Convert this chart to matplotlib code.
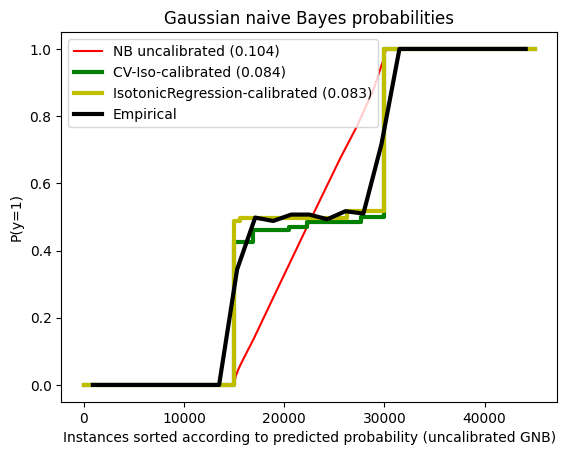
import numpy as np
from matplotlib import pyplot as plt

# red line: uncalibrated NB probabilities (sorted)
nb_x = [0, 15000, 15150, 15400, 15800, 17000, 18940, 22270, 25600, 27260, 28920, 29920, 30150, 45000]
nb_y = [0, 0, 0.025, 0.045, 0.07, 0.14, 0.262, 0.47, 0.675, 0.77, 0.88, 0.97, 1.0, 1.0]

# green: CV isotonic calibrated (step starts)
cv_x = [0, 15000, 16900, 20500, 22300, 27700, 30000, 45000]
cv_y = [0, 0.425, 0.462, 0.47, 0.486, 0.50, 1.0, 1.0]

# yellow: isotonic regression calibrated (step starts)
iso_x = [0, 14970, 15600, 26300, 29950, 45000]
iso_y = [0, 0.487, 0.496, 0.517, 1.0, 1.0]

# black: empirical, chunk means of 1800 instances
emp_x = np.arange(900, 45000, 1800)
emp_y = [0, 0, 0, 0, 0, 0, 0, 0, 0.344, 0.498, 0.488, 0.507, 0.507,
         0.493, 0.517, 0.51, 0.716, 1.0, 1.0, 1.0, 1.0, 1.0, 1.0, 1.0, 1.0]

plt.figure(figsize=(6.4, 4.8))
plt.plot(nb_x, nb_y, 'r', label='NB uncalibrated (0.104)')
plt.plot(cv_x, cv_y, 'g', lw=3, drawstyle='steps-post', label='CV-Iso-calibrated (0.084)')
plt.plot(iso_x, iso_y, 'y', lw=3, drawstyle='steps-post', label='IsotonicRegression-calibrated (0.083)')
plt.plot(emp_x, emp_y, 'k', lw=3, label='Empirical')
plt.xlabel('Instances sorted according to predicted probability (uncalibrated GNB)')
plt.ylabel('P(y=1)')
plt.title('Gaussian naive Bayes probabilities')
plt.legend(loc='upper left')
plt.savefig('out.png', bbox_inches='tight')
